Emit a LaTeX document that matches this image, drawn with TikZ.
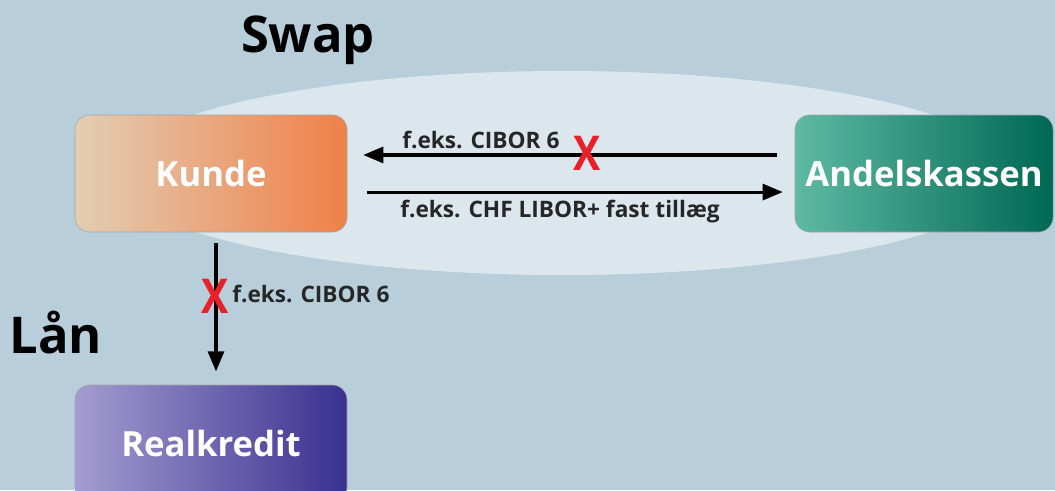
\documentclass[tikz,border=0pt]{standalone}
\usepackage{fontspec}
\setmainfont{Open Sans}
\usetikzlibrary{arrows.meta}
\definecolor{bg}{HTML}{B8CFDB}
\definecolor{ell}{HTML}{DBE6ED}
\definecolor{redx}{HTML}{E8202A}
\tikzset{
  box/.style={rounded corners=11pt, minimum width=204pt, minimum height=87.75pt, draw=gray!70, line width=0.4pt,
     text=white, font=\fontsize{26}{28}\selectfont\bfseries, inner sep=0pt},
  arr/.style={line width=2.3pt, -{Triangle[length=15pt,width=12pt]}},
  lbl/.style={font=\fontsize{17}{19}\selectfont\bfseries, text=black!85, inner sep=0pt},
  xmark/.style={font=\fontsize{36}{38}\selectfont\bfseries, text=redx, inner sep=0pt, xscale=0.85},
  title/.style={font=\fontsize{38}{40}\selectfont\bfseries, text=black, inner sep=0pt}
}
\begin{document}
\begin{tikzpicture}[x=0.75pt,y=-0.75pt]
\useasboundingbox (0,0) rectangle (1055,490);
\clip (0,0) rectangle (1055,490);
\fill[bg] (0,0) rectangle (1055,490);
\fill[ell] (563,173) ellipse [x radius=450, y radius=102];
\node[box, left color={rgb,255:red,226;green,206;blue,180}, right color={rgb,255:red,240;green,128;blue,72}] (kunde) at (211,173.5) {Kunde};
\node[box, minimum width=193.5pt, left color={rgb,255:red,94;green,186;blue,162}, right color={rgb,255:red,0;green,104;blue,84}] (andel) at (924,173.5) {Andelskassen};
\node[box, left color={rgb,255:red,164;green,156;blue,208}, right color={rgb,255:red,58;green,48;blue,144}] (real) at (211,443.5) {Realkredit};
\draw[arr, shorten <=13pt, shorten >=12pt] ([yshift=13.9pt]andel.west) -- ([yshift=13.9pt]kunde.east);
\draw[arr, shorten <=15pt, shorten >=9pt] ([yshift=-13.9pt]kunde.east) -- ([yshift=-13.9pt]andel.west);
\draw[arr, shorten <=8pt, shorten >=10pt] ([xshift=3.75pt]kunde.south) -- ([xshift=3.75pt]real.north);
\node[lbl, anchor=west] (l1) at (402,140) {f.eks. CIBOR 6};
\node[lbl, anchor=west] (l2) at (400,212) {f.eks. CHF LIBOR+ fast tillæg};
\node[lbl, anchor=west] (l3) at (232,294) {f.eks. CIBOR 6};
\node[xmark] (x1) at (587,153) {X};
\node[xmark] (x2) at (215,296) {X};
\node[title] (swap) at (308,40) {Swap};
\node[title] (laan) at (56,333) {Lån};
\end{tikzpicture}
\end{document}
